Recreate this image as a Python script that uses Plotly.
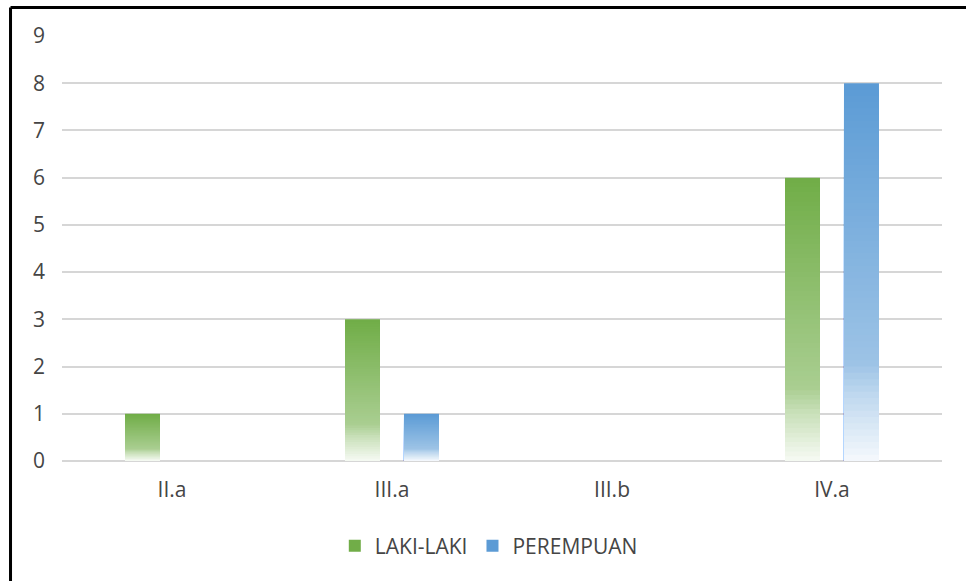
import plotly.graph_objects as go

# Employee counts per rank group, split by gender
categories = ["II.a", "III.a", "III.b", "IV.a"]
laki_laki = [1, 3, 0, 6]
perempuan = [0, 1, 0, 8]
series_names = ["LAKI-LAKI", "PEREMPUAN"]
y_ticks = list(range(0, 10))

GREEN = (0x70, 0xAD, 0x47)
BLUE = (0x5B, 0x9B, 0xD5)

# How far each point of a bar is tinted toward white, by fraction from its top
TINT_STOPS = [(0.0, 0.0), (0.74, 0.40), (0.83, 0.62), (1.0, 0.94)]
SEGMENTS = 60


def tint_at(t):
    for (t0, a0), (t1, a1) in zip(TINT_STOPS[:-1], TINT_STOPS[1:]):
        if t <= t1:
            return a0 + (a1 - a0) * (t - t0) / (t1 - t0)
    return TINT_STOPS[-1][1]


def shade(rgb, t):
    a = tint_at(t)
    r, g, b = (round(c + (255 - c) * a) for c in rgb)
    return f"rgb({r},{g},{b})"


def gradient_bars(values, name, rgb, offset, width):
    """Bars filled with a vertical fade: nested layers, each shorter and paler,
    drawn from the full bar down so that every layer covers the one beneath."""
    traces = []
    for i in range(SEGMENTS):
        frac = 1 - i / SEGMENTS
        traces.append(go.Bar(
            x=categories,
            y=[v * frac for v in values],
            name=name,
            legendgroup=name,
            showlegend=(i == 0),
            offset=offset,
            width=width,
            marker=dict(color=shade(rgb, (i + 0.5) / SEGMENTS), line=dict(width=0)),
            hoverinfo="skip",
        ))
    return traces


fig = go.Figure()
for tr in gradient_bars(laki_laki, series_names[0], GREEN, -0.2136, 0.159):
    fig.add_trace(tr)
for tr in gradient_bars(perempuan, series_names[1], BLUE, 0.0545, 0.159):
    fig.add_trace(tr)

FONT = dict(family="Open Sans, Lato, sans-serif", size=21, color="#454545")

fig.update_layout(
    width=966,
    height=581,
    margin=dict(l=62, r=24, t=36, b=120),
    paper_bgcolor="white",
    plot_bgcolor="white",
    barmode="overlay",
    font=FONT,
    showlegend=True,
    legend=dict(
        orientation="h",
        x=0.485,
        xanchor="center",
        y=-0.2,
        yanchor="middle",
        font=FONT,
        traceorder="normal",
    ),
    xaxis=dict(
        type="category",
        categoryorder="array",
        categoryarray=categories,
        showgrid=False,
        showline=False,
        ticks="",
        ticklabelstandoff=14,
        tickfont=FONT,
    ),
    yaxis=dict(
        range=[0, 9],
        tickvals=y_ticks,
        showgrid=True,
        gridcolor="#D6D6D6",
        gridwidth=1.5,
        zeroline=True,
        zerolinecolor="#D6D6D6",
        zerolinewidth=1.5,
        showline=False,
        ticks="",
        ticklabelstandoff=16,
        tickfont=FONT,
    ),
    shapes=[
        dict(type="line", xref="paper", yref="paper",
             x0=-0.0585, x1=-0.0585, y0=-0.4, y1=1.067,
             line=dict(color="black", width=3)),
        dict(type="line", xref="paper", yref="paper",
             x0=-0.0585, x1=1.1, y0=1.067, y1=1.067,
             line=dict(color="black", width=3)),
    ],
)

fig.write_html("out.html")
